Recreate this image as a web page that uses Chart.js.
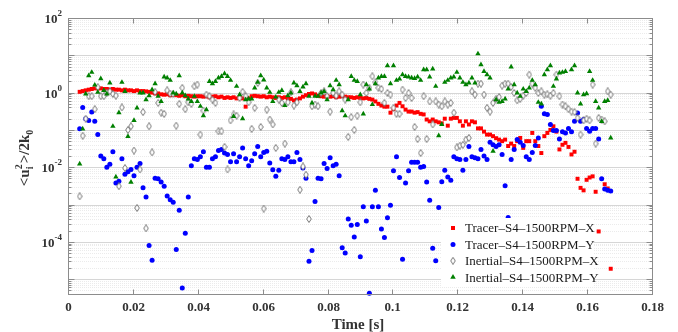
<!DOCTYPE html>
<html lang="en">
<head>
<meta charset="UTF-8">
<title>Normalised fluctuation energy vs time</title>
<style>
  body { margin: 0; background: #fff; }
  #chart { display: block; }
</style>
</head>
<body>
<canvas id="chart" width="678" height="332"></canvas>
<script src="https://cdn.jsdelivr.net/npm/chart.js"></script>
<script>
// sampling grid of the measurement (s)
const t0 = 0.0036;
const dt = 0.00093;

const xTicks = [0, 0.02, 0.04, 0.06, 0.08, 0.1, 0.12, 0.14, 0.16, 0.18];
const yLabelExps = [2, 0, -2, -4];
const seriesNames = ['Tracer–S4–1500RPM–X', 'Tracer–S4–1500RPM–Y', 'Inertial–S4–1500RPM–X', 'Inertial–S4–1500RPM–Y'];

// <u_i^2>/2k_0, one value per sample (null = no point)
const tracerX = [
  1.05, 1.1, 1.15, 1.2, 1.25, 1.3, 1.3, 1.3, 1.25, 1.25,
  1.2, 1.25, 1.2, 1.2, 1.15, 1.2, 1.15, 1.15, 1.1, 1.15,
  1.1, 1.1, 1.08, 1.05, 1.0, 0.95, 0.95, 0.9, 0.88, 0.9,
  0.85, 0.88, 0.85, 0.82, 0.85, 0.8, 0.82, 0.8, 0.78, 0.8,
  0.8, 0.78, 0.8, 0.75, 0.78, 0.8, 0.75, 0.78, 0.72, 0.75,
  0.72, 0.75, 0.7, 0.72, 0.7, 0.42, 0.7, 0.8, 0.82, 0.8,
  0.78, 0.8, 0.75, 0.78, 0.75, 0.72, 0.75, 0.72, 0.75, 0.7,
  0.68, 0.62, 0.65, 0.7, 0.78, 0.85, 0.92, 0.95, 0.9, 0.82,
  0.8, 0.78, 0.8, 0.78, 0.8, 0.75, 0.78, 0.8, 0.78, 0.75,
  0.75, 0.72, 0.75, 0.72, 0.7, 0.72, 0.68, 0.65, 0.58, 0.5,
  0.45, 0.42, 0.42, 0.29, 0.36, 0.45, 0.53, 0.43, 0.35, 0.31,
  0.31, 0.29, 0.3, 0.27, 0.26, 0.19, 0.17, 0.19, 0.17, 0.16,
  0.15, 0.2, 0.13, 0.2, 0.21, 0.21, 0.17, 0.13, 0.17, 0.14,
  0.17, 0.16, 0.11, 0.11, 0.09, 0.075, 0.075, 0.068, 0.06, 0.055,
  0.05, 0.055, 0.037, 0.043, 0.037, 0.05, 0.061, 0.033, 0.05, 0.05,
  0.083, 0.05, 0.037, 0.024, 0.068, 0.083, 0.1, 0.125, 0.09, 0.03,
  0.04, 0.045, 0.035, 0.022, 0.026, 0.0049, 0.0028, 0.0024, 0.0046, 0.0053,
  0.0057, 0.0022, 0.00019, null, 0.0035, 0.0027, 0.000019
];
const tracerY = [
  0.107, 0.4, 0.2, 0.18, 0.3, 0.17, 0.075, 0.02, 0.017, 0.01,
  0.012, 0.026, 0.0038, 0.0042, 0.017, 0.0065, 0.0076, 0.0087, 0.0059, 0.01,
  0.0125, 0.0028, 0.0016, 8e-5, 3.2e-5, 0.0051, 0.0049, 0.004, 0.0031, 0.0017,
  0.00135, 0.00115, 6.2e-5, 0.0007, 5.8e-6, 1.7e-4, 0.0016, 0.011, 0.017, 0.016,
  0.019, 0.026, 0.01, 0.01, 0.017, 0.019, 0.028, 0.03, 0.024, 0.022,
  0.014, 0.023, 0.014, 0.019, 0.033, 0.017, 0.011, 0.015, 0.023, 0.036,
  0.019, 0.025, 0.027, 0.013, 0.0085, 0.0057, 0.0083, 0.017, 0.016, 0.019,
  0.014, 0.014, 0.025, 0.016, 0.0095, 0.0051, 3e-5, 5.9e-5, 0.0012, 0.0051,
  0.0049, 0.0125, 0.0093, 0.018, 0.011, 0.012, 0.0059, 6.9e-5, 5e-5, 4.1e-4,
  2.8e-4, 1.35e-4, 2.9e-4, 4e-5, 8.7e-4, 3.6e-4, 4.2e-6, 8.7e-4, 0.0024, 8.7e-4,
  2.2e-4, 1.3e-4, 4.4e-4, 9.5e-4, 0.008, 0.019, 0.0053, 3.4e-5, 0.0038, 0.008,
  0.0135, 0.0135, 0.0135, 0.01, 0.0105, 0.004, 0.0013, 6.7e-5, 3.1e-5, 8.3e-4,
  0.0041, 0.0083, 0.0055, 0.0045, 0.019, 0.017, 0.016, 0.0083, 0.016, 0.036,
  0.019, 0.018, 0.017, 0.03, 0.02, 0.016, 0.047, 0.04, 0.036, 0.04,
  0.022, 0.0032, 4.5e-4, 0.016, 0.03, 0.055, 0.047, 0.038, 0.019, 0.016,
  0.025, 0.038, 0.061, 0.43, 0.27, 0.26, 0.14, 0.097, 0.097, 0.057,
  0.09, 0.083, 0.11, 0.09, 0.17, 0.285, 0.17, 0.19, 0.11, 0.092,
  0.11, 0.11, 0.057, 0.0049, 0.0026, 0.0024, 0.0023
];
const inertialX = [
  0.00166, 0.07, 0.2, 0.8, 0.8, 0.36, 1.4, 0.8, 0.8, 1.0,
  1.08, 0.92, 0.83, 0.0031, 0.4, 0.0095, 0.1, 0.125, 0.028, 0.00081,
  0.0087, 0.3, 2.3e-4, 0.125, 0.025, 1.05, 0.53, 0.29, 0.27, 1.15,
  0.94, 0.92, 0.13, 0.5, 1.34, 0.36, 0.55, 0.5, 1.48, 1.64,
  0.075, 0.33, 0.88, 0.8, 0.65, 0.53, 0.092, 0.092, 0.035, 0.0087,
  0.18, 0.26, 0.24, 0.72, 1.05, 0.8, 0.55, 0.107, 0.39, 1.82,
  0.12, 7.8e-4, 0.35, 0.19, 0.14, 0.033, 0.65, 0.53, 0.043, 0.55,
  1.02, 0.45, 0.55, 0.0025, 0.0105, 0.0063, 4.1e-4, 0.43, 0.48, 0.43,
  0.98, 1.08, 0.8, 0.31, 0.98, 0.83, 1.08, 0.88, 0.65, 0.065,
  0.22, 0.1, 0.24, 0.55, 1.64, 0.98, 1.34, 2.73, 1.89, 1.34,
  1.25, 0.53, 0.98, 0.88, 0.39, 0.27, 0.27, 1.2, 0.72, 0.98,
  0.72, 0.12, 0.057, 0.024, 0.8, 0.057, 0.58, 0.14, 0.58, 0.48,
  0.43, 0.58, 0.48, 0.53, 0.29, 0.034, 0.038, 0.04, 0.055, 0.061,
  1.08, 0.88, 1.74, 1.74, 0.88, 0.39, 0.31, 0.53, 0.68, 0.76,
  1.54, 1.74, 1.74, 1.42, 0.98, 0.62, 0.68, 0.83, 0.98, 3.04,
  1.74, 1.34, 0.98, 1.08, 0.88, 0.9, 0.83, 0.98, 3.04, 0.8,
  0.48, 0.43, 0.36, 0.31, 0.3, 0.21, 0.075, 0.18, 0.2, 0.18,
  1.64, 0.043, 0.21, 0.19, 0.17, 1.08, 0.88
];
const inertialY = [
  0.0123, 0.107, 0.92, 2.86, 3.5, 1.6, 1.02, 2.37, 1.15, 0.92,
  1.82, 0.125, 0.0055, 0.29, 1.89, 1.08, 0.067, 0.004, 0.18, 0.39,
  0.98, 0.98, 0.65, 0.83, 1.2, 1.74, 0.8, 0.58, 2.63, 2.48,
  2.14, 0.98, 0.92, 2.86, 0.98, 0.83, 0.68, 0.58, 0.8, 0.58,
  0.43, 0.24, 0.35, 2.0, 1.74, 2.0, 2.48, 2.73, 3.23, 2.73,
  2.14, 0.23, 1.48, 0.88, 0.2, 0.65, 0.68, 0.68, 1.34, 1.89,
  2.86, 2.2, 1.34, 1.02, 0.58, 0.76, 1.02, 1.15, 0.45, 0.83,
  0.98, 1.82, 1.54, 1.08, 1.42, 1.74, 0.8, 0.53, 0.8, 0.8,
  0.98, 1.08, 0.65, 1.54, 1.2, 2.14, 1.64, 0.33, 0.24, 0.65,
  2.73, 2.14, 2.0, 0.88, 0.27, 1.64, 1.25, 0.48, 1.74, 2.48,
  2.73, 2.73, 5.3, 1.74, 5.3, 2.14, 2.33, 3.04, 2.73, 2.63,
  2.48, 2.4, 2.63, 2.14, 4.14, 4.14, 2.63, 4.32, 1.48, 0.07,
  0.14, 1.89, 2.14, 2.48, 2.63, 3.5, 2.48, 1.89, 1.64, 1.82,
  2.48, 1.82, 11, 5.6, 3.7, 3.04, 2.48, 0.027, 0.65, 0.55,
  0.58, 0.68, 1.25, 4.9, 1.64, 0.98, 0.8, 1.25, 1.08, 1.34,
  2.14, 1.64, 0.55, 0.5, 3.04, 4.14, 5.3, 1.48, 2.33, 3.37,
  3.5, 3.7, null, 4.14, 5.3, 0.98, 0.5, 0.88, 0.94, 3.7,
  2.14, 0.58, 0.39, 0.17, 0.58, 0.62, 0.061
];

const time = tracerX.map((_, i) => t0 + i * dt);
function toPoints(vals) {
  return vals.map((v, i) => v == null ? null : { x: time[i], y: v }).filter(Boolean);
}

// small tall open diamond used for the inertial X series
function diamondMarker() {
  const c = document.createElement('canvas');
  c.width = 6; c.height = 8;
  const g = c.getContext('2d');
  g.beginPath();
  g.moveTo(3, 0.5); g.lineTo(5.3, 4); g.lineTo(3, 7.5); g.lineTo(0.7, 4);
  g.closePath();
  g.fillStyle = '#fff'; g.fill();
  g.strokeStyle = '#6a6a6a'; g.lineWidth = 0.9; g.stroke();
  return c;
}
const diamond = diamondMarker();

const serif = '"Liberation Serif", "Times New Roman", serif';
const colors = ['#ff0000', '#0000ff', '#666666', '#008000'];

function hline(ctx, x1, x2, y) { ctx.beginPath(); ctx.moveTo(x1, y); ctx.lineTo(x2, y); ctx.stroke(); }
function vline(ctx, x, y1, y2) { ctx.beginPath(); ctx.moveTo(x, y1); ctx.lineTo(x, y2); ctx.stroke(); }

function drawMarker(ctx, i, x, y) {
  ctx.fillStyle = colors[i];
  if (i === 0) {
    ctx.fillRect(x - 2, y - 2, 4, 4);
  } else if (i === 1) {
    ctx.beginPath(); ctx.arc(x, y, 2.5, 0, Math.PI * 2); ctx.fill();
  } else if (i === 2) {
    ctx.drawImage(diamond, x - 3, y - 4);
  } else {
    const r = 3.2;
    ctx.beginPath();
    ctx.moveTo(x, y - r);
    ctx.lineTo(x + r * 0.866, y + r * 0.5);
    ctx.lineTo(x - r * 0.866, y + r * 0.5);
    ctx.closePath(); ctx.fill();
  }
}

const decorations = {
  id: 'decorations',
  beforeDatasetsDraw(chart) {
    const { ctx, chartArea: a, scales: { y } } = chart;
    ctx.save();
    ctx.lineWidth = 1;
    for (let e = -6; e <= 2; e++) {
      for (let m = 1; m <= 9; m++) {
        const v = m * Math.pow(10, e);
        if (v < y.min || v > y.max) continue;
        const py = Math.round(y.getPixelForValue(v)) + 0.5;
        ctx.strokeStyle = m === 1 ? '#d6d6d6' : '#ebebeb';
        ctx.setLineDash(m === 1 ? [] : [1, 1]);
        hline(ctx, a.left, a.right, py);
      }
    }
    ctx.restore();
  },
  afterDraw(chart) {
    const { ctx, chartArea: a, scales: { x, y } } = chart;
    ctx.save();
    // frame
    ctx.strokeStyle = '#8c8c8c';
    ctx.lineWidth = 1;
    const L = Math.round(a.left) + 0.5, R = Math.round(a.right) + 0.5;
    const T = Math.round(a.top) + 0.5, B = Math.round(a.bottom) + 0.5;
    ctx.strokeRect(L, T, R - L, B - T);

    // x ticks and labels
    ctx.fillStyle = '#333';
    ctx.font = 'bold 13px ' + serif;
    ctx.textAlign = 'center';
    ctx.textBaseline = 'middle';
    xTicks.forEach(v => {
      const px = Math.round(x.getPixelForValue(v)) + 0.5;
      vline(ctx, px, B, B - 5);
      vline(ctx, px, T, T + 5);
      ctx.fillText(String(+v.toFixed(2)), px, B + 13);
    });

    // y ticks (major and minor) on both sides
    for (let e = -6; e <= 2; e++) {
      for (let m = 1; m <= 9; m++) {
        const v = m * Math.pow(10, e);
        if (v < y.min || v > y.max) continue;
        const py = Math.round(y.getPixelForValue(v)) + 0.5;
        const len = m === 1 ? 6 : 3;
        hline(ctx, L, L + len, py);
        hline(ctx, R - len, R, py);
      }
    }

    // y labels 10^n
    const big = 'bold 13px ' + serif, sup = 'bold 9px ' + serif;
    ctx.textAlign = 'left';
    ctx.textBaseline = 'alphabetic';
    yLabelExps.forEach(e => {
      const py = y.getPixelForValue(Math.pow(10, e));
      const s = String(e);
      ctx.font = sup; const ws = ctx.measureText(s).width;
      ctx.font = big; const wb = ctx.measureText('10').width;
      const x0 = a.left - 6 - ws - wb;
      ctx.fillText('10', x0, py + 5);
      ctx.font = sup;
      ctx.fillText(s, x0 + wb, py - 2);
    });

    // axis titles
    ctx.font = 'bold 15px ' + serif;
    ctx.textAlign = 'center';
    ctx.textBaseline = 'middle';
    ctx.fillText('Time [s]', (a.left + a.right) / 2 - 2, a.bottom + 31);

    ctx.save();
    ctx.translate(a.left - 44, (a.top + a.bottom) / 2 + 2);
    ctx.rotate(-Math.PI / 2);
    ctx.textAlign = 'left';
    ctx.textBaseline = 'alphabetic';
    const tf = 'bold 15px ' + serif, sf = 'bold 10px ' + serif;
    ctx.font = tf; const w1 = ctx.measureText('<u').width, w3 = ctx.measureText('>/2k').width;
    ctx.font = sf; const w2 = Math.max(ctx.measureText('i').width, ctx.measureText('2').width) + 1, w4 = ctx.measureText('0').width;
    let cx = -(w1 + w2 + w3 + w4) / 2;
    const base = 5;
    ctx.font = tf; ctx.fillText('<u', cx, base); cx += w1;
    ctx.font = sf; ctx.fillText('2', cx, base - 7); ctx.fillText('i', cx, base + 4); cx += w2;
    ctx.font = tf; ctx.fillText('>/2k', cx, base); cx += w3;
    ctx.font = sf; ctx.fillText('0', cx, base + 4);
    ctx.restore();

    // legend inside the axes
    const lx = a.right - 211, ly = a.bottom - 76;
    ctx.fillStyle = '#fff';
    ctx.fillRect(lx, ly, 152, 69);
    ctx.font = '13px ' + serif;
    ctx.textAlign = 'left';
    ctx.textBaseline = 'middle';
    seriesNames.forEach((name, i) => {
      const ry = ly + 10 + i * 16.4;
      drawMarker(ctx, i, lx + 12, ry);
      ctx.fillStyle = '#1a1a1a';
      ctx.fillText(name, lx + 24, ry + 1);
    });
    ctx.restore();
  }
};

new Chart(document.getElementById('chart'), {
  type: 'scatter',
  data: {
    datasets: [
      { label: seriesNames[0], data: toPoints(tracerX), pointStyle: 'rect', radius: 2.8, backgroundColor: colors[0], borderWidth: 0, order: 4 },
      { label: seriesNames[1], data: toPoints(tracerY), pointStyle: 'circle', radius: 2.5, backgroundColor: colors[1], borderWidth: 0, order: 3 },
      { label: seriesNames[2], data: toPoints(inertialX), pointStyle: diamond, order: 2 },
      { label: seriesNames[3], data: toPoints(inertialY), pointStyle: 'triangle', radius: 3.1, backgroundColor: colors[3], borderWidth: 0, order: 1 }
    ]
  },
  options: {
    responsive: false,
    devicePixelRatio: 1,
    animation: false,
    events: [],
    layout: { padding: { left: 68, top: 18, right: 26, bottom: 38 } },
    plugins: { legend: { display: false }, tooltip: { enabled: false } },
    datasets: { scatter: { clip: 6 } },
    scales: {
      x: { type: 'linear', display: false, min: 0, max: 0.18 },
      y: { type: 'logarithmic', display: false, min: 4e-6, max: 100 }
    }
  },
  plugins: [decorations]
});
</script>
</body>
</html>
